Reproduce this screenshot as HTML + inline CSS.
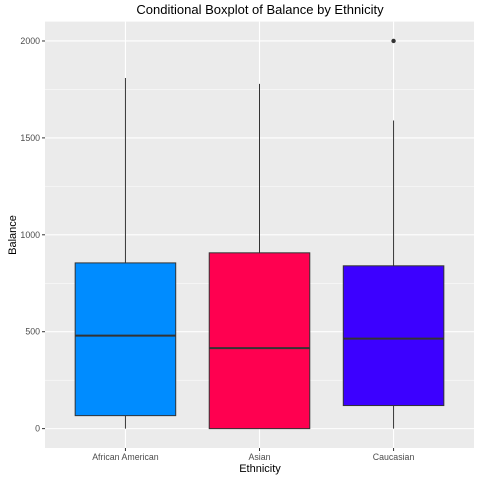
<!DOCTYPE html>
<html><head><meta charset="utf-8"><style>
body{margin:0;background:#fff;}
svg{display:block;font-family:"Liberation Sans",sans-serif;}
</style></head><body>
<svg id="chart" width="480" height="480">
<rect x="0" y="0" width="480" height="480" fill="#fff"/>
<text x="260" y="14" text-anchor="middle" font-size="13" fill="#000">Conditional Boxplot of Balance by Ethnicity</text>
<rect x="45" y="21.6" width="429" height="426.4" fill="#ebebeb"/>
<g id="grid"></g>
<g id="marks"></g>
<g id="axes"></g>
<text x="260" y="472" text-anchor="middle" font-size="11">Ethnicity</text>
<text transform="translate(16,235) rotate(-90)" text-anchor="middle" font-size="11">Balance</text>
</svg>
<script>
const categories=["African American","Asian","Caucasian"];
const colors=["#008cff","#ff0050","#3c00ff"];
const whiskerLow=[0,0,0];
const q1=[67,0,119];
const medians=[480,415,464];
const q3=[855,907,840];
const whiskerHigh=[1809,1779,1590];
const outliers=[[],[],[2000]];
const yTicks=[0,500,1000,1500,2000];
const NS="http://www.w3.org/2000/svg";
const px0=45,px1=474,py0=448,py1=21.6;
const yMin=-100,yMax=2100;
function y(v){return py0-(v-yMin)/(yMax-yMin)*(py0-py1);}
const n=categories.length;
function x(i){return px0+(i+1-0.4)/(n+0.2)*(px1-px0);}
const bw=0.75*(px1-px0)/(n+0.2);
function mk(tag,attrs,parent){const e=document.createElementNS(NS,tag);for(const k in attrs)e.setAttribute(k,attrs[k]);document.getElementById(parent).appendChild(e);return e;}
const grid="grid",marks="marks",axes="axes";
for(let k=0;k<yTicks.length-1;k++){const m=(yTicks[k]+yTicks[k+1])/2;
const g=mk("line",{x1:px0,x2:px1,y1:y(m),y2:y(m),stroke:"#fff","stroke-width":0.5},grid);

}
yTicks.forEach(t=>{
const g=mk("line",{x1:px0,x2:px1,y1:y(t),y2:y(t),stroke:"#fff","stroke-width":1.1},grid);


const tk=mk("line",{x1:px0-3,x2:px0,y1:y(t),y2:y(t),stroke:"#333"},axes);


const tx=mk("text",{x:px0-5,y:y(t)+3,"text-anchor":"end","font-size":"8.8",fill:"#4d4d4d"},axes);
tx.textContent=t;


});
categories.forEach((c,i)=>{
const cx=x(i);
const g=mk("line",{x1:cx,x2:cx,y1:py1,y2:py0,stroke:"#fff","stroke-width":1.1},grid);


const w1=mk("line",{x1:cx,x2:cx,y1:y(q3[i]),y2:y(whiskerHigh[i]),stroke:"#333"},marks);


const w2=mk("line",{x1:cx,x2:cx,y1:y(q1[i]),y2:y(whiskerLow[i]),stroke:"#333"},marks);


const b=mk("rect",{x:cx-bw/2,y:y(q3[i]),width:bw,height:y(q1[i])-y(q3[i]),fill:colors[i],stroke:"#333","stroke-width":1},marks);


const md=mk("line",{x1:cx-bw/2,x2:cx+bw/2,y1:y(medians[i]),y2:y(medians[i]),stroke:"#333","stroke-width":2},marks);


outliers[i].forEach(o=>{
const p=mk("circle",{cx:cx,cy:y(o),r:2.2,fill:"#333"},marks);


});
const tk=mk("line",{x1:cx,x2:cx,y1:py0,y2:py0+3,stroke:"#333"},axes);


const tx=mk("text",{x:cx,y:py0+12,"text-anchor":"middle","font-size":"8.8",fill:"#4d4d4d"},axes);
tx.textContent=c;


});
</script>
</body></html>
